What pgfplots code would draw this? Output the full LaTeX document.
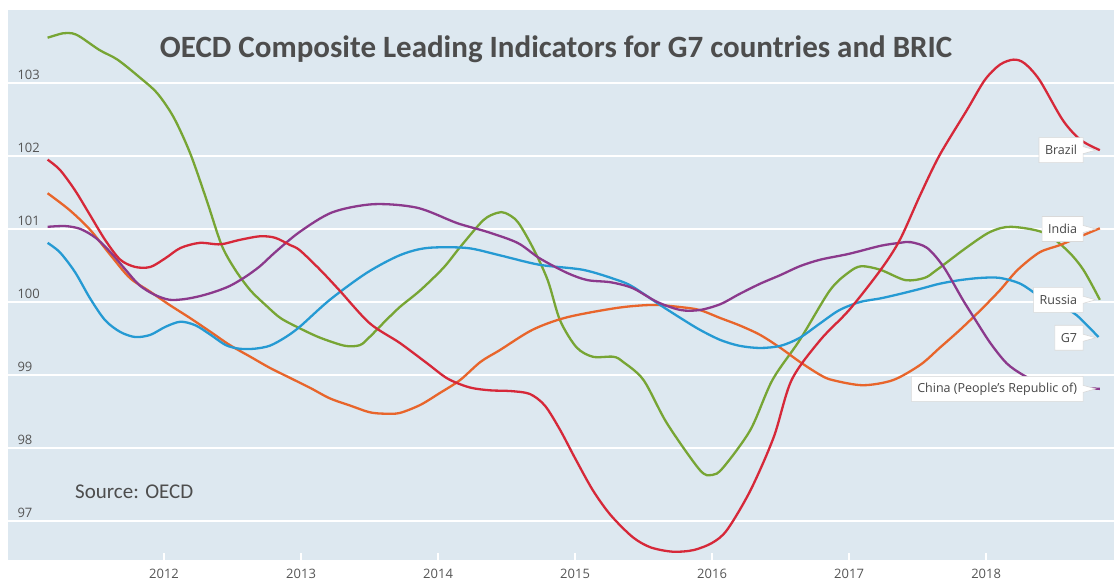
\documentclass[border=0pt]{standalone}
\usepackage{pgfplots}
\pgfplotsset{compat=1.18}
\usepackage{fontspec}
\setmainfont{Open Sans}
\newfontfamily\calib{Carlito}
\usetikzlibrary{shapes.callouts}
\definecolor{bg}{RGB}{221,232,240}
\definecolor{cgreen}{RGB}{119,165,52}
\definecolor{cred}{RGB}{214,40,57}
\definecolor{corange}{RGB}{232,101,43}
\definecolor{cblue}{RGB}{37,154,211}
\definecolor{cpurple}{RGB}{139,57,140}
\definecolor{tickgray}{RGB}{85,85,85}
\definecolor{titlegray}{RGB}{77,77,77}
\definecolor{labgray}{RGB}{70,70,70}
\begin{document}
\begin{tikzpicture}
\useasboundingbox (-8pt,-25pt) rectangle (1106pt,560pt);
\begin{axis}[
  at={(0pt,0pt)}, anchor=south west,
  scale only axis, width=1106pt, height=550pt,
  xmin=2010.861, xmax=2018.934, ymin=96.466, ymax=104.0,
  axis background/.style={fill=bg},
  axis line style={draw=none},
  xtick={2012,2013,2014,2015,2016,2017,2018},
  xticklabels={2012,2013,2014,2015,2016,2017,2018},
  ytick={97,98,99,100,101,102,103},
  yticklabels={97,98,99,100,101,102,103},
  ymajorgrids, grid style={white, line width=1.6pt},
  xtick pos=left, ytick pos=left,
  tick align=inside, major tick length=7pt,
  xtick style={white, line width=1.5pt},
  ytick style={draw=none},
  xticklabel style={font=\fontsize{13}{15}\selectfont, text=tickgray, yshift=-6pt},
  yticklabel style={font=\fontsize{13}{15}\selectfont, text=tickgray, anchor=south west, xshift=6pt, yshift=0pt},
  every axis plot/.append style={line width=2.3pt, no markers, smooth, line join=round},
  clip=true,
]
% Russia
\addplot[cgreen] coordinates {
(2011.15,103.62)(2011.26,103.68)(2011.33,103.68)(2011.39,103.63)(2011.53,103.45)(2011.66,103.32)
(2011.82,103.08)(2011.95,102.86)(2012.07,102.53)(2012.19,102.04)(2012.31,101.40)(2012.42,100.78)
(2012.52,100.44)(2012.63,100.16)(2012.74,99.96)(2012.85,99.78)(2012.99,99.64)(2013.14,99.51)
(2013.32,99.40)(2013.43,99.41)(2013.50,99.52)(2013.61,99.73)(2013.72,99.93)(2013.87,100.16)
(2014.04,100.47)(2014.16,100.75)(2014.33,101.12)(2014.43,101.22)(2014.49,101.22)(2014.58,101.10)
(2014.69,100.75)(2014.80,100.30)(2014.89,99.75)(2015.01,99.38)(2015.13,99.25)(2015.28,99.25)
(2015.35,99.18)(2015.50,98.93)(2015.67,98.34)(2015.91,97.70)(2016.00,97.63)(2016.08,97.73)
(2016.28,98.25)(2016.44,98.93)(2016.64,99.48)(2016.86,100.16)(2017.00,100.41)(2017.09,100.49)
(2017.23,100.44)(2017.41,100.30)(2017.55,100.33)(2017.64,100.44)(2017.86,100.75)(2018.03,100.96)
(2018.18,101.03)(2018.42,100.95)(2018.59,100.71)(2018.71,100.44)(2018.83,100.03)
};
% India
\addplot[corange] coordinates {
(2011.15,101.49)(2011.31,101.26)(2011.46,100.99)(2011.61,100.64)(2011.75,100.33)(2011.90,100.14)
(2012.04,99.96)(2012.19,99.78)(2012.34,99.59)(2012.48,99.41)(2012.63,99.25)(2012.77,99.10)
(2012.92,98.96)(2013.07,98.82)(2013.21,98.68)(2013.36,98.58)(2013.50,98.49)(2013.61,98.47)
(2013.72,98.48)(2013.87,98.59)(2014.01,98.75)(2014.16,98.93)(2014.31,99.18)(2014.45,99.34)
(2014.69,99.62)(2014.94,99.79)(2015.31,99.92)(2015.57,99.96)(2015.77,99.93)(2015.91,99.89)
(2016.06,99.78)(2016.20,99.68)(2016.35,99.55)(2016.50,99.37)(2016.64,99.18)(2016.79,99.00)
(2016.88,98.93)(2017.10,98.86)(2017.32,98.93)(2017.52,99.14)(2017.66,99.37)(2017.81,99.62)
(2017.96,99.89)(2018.10,100.16)(2018.23,100.44)(2018.39,100.68)(2018.54,100.78)(2018.69,100.90)
(2018.83,101.01)
};
% G7
\addplot[cblue] coordinates {
(2011.15,100.81)(2011.24,100.68)(2011.35,100.41)(2011.46,100.05)(2011.57,99.75)(2011.68,99.59)
(2011.79,99.52)(2011.90,99.55)(2012.01,99.66)(2012.12,99.73)(2012.23,99.68)(2012.34,99.55)
(2012.45,99.41)(2012.55,99.36)(2012.66,99.36)(2012.77,99.40)(2012.88,99.51)(2012.99,99.66)
(2013.21,100.03)(2013.48,100.40)(2013.72,100.64)(2013.92,100.74)(2014.21,100.74)(2014.45,100.64)
(2014.74,100.51)(2015.06,100.44)(2015.31,100.30)(2015.42,100.21)(2015.62,99.96)(2015.77,99.78)
(2015.91,99.62)(2016.06,99.48)(2016.20,99.40)(2016.35,99.37)(2016.50,99.40)(2016.64,99.51)
(2016.79,99.71)(2016.93,99.89)(2017.08,100.00)(2017.23,100.05)(2017.37,100.11)(2017.52,100.18)
(2017.66,100.25)(2017.81,100.30)(2017.96,100.33)(2018.10,100.33)(2018.25,100.25)(2018.39,100.08)
(2018.54,99.95)(2018.66,99.82)(2018.82,99.52)
};
% China
\addplot[cpurple] coordinates {
(2011.15,101.03)(2011.28,101.04)(2011.39,101.00)(2011.50,100.88)(2011.61,100.68)(2011.72,100.44)
(2011.82,100.23)(2011.93,100.10)(2012.04,100.03)(2012.15,100.04)(2012.26,100.08)(2012.37,100.14)
(2012.48,100.22)(2012.59,100.34)(2012.70,100.49)(2012.81,100.68)(2012.99,100.96)(2013.23,101.23)
(2013.53,101.34)(2013.85,101.29)(2014.14,101.08)(2014.36,100.96)(2014.58,100.81)(2014.74,100.60)
(2014.94,100.40)(2015.09,100.30)(2015.26,100.27)(2015.42,100.19)(2015.60,100.00)(2015.77,99.89)
(2015.91,99.89)(2016.06,99.97)(2016.20,100.11)(2016.35,100.25)(2016.50,100.37)(2016.64,100.49)
(2016.79,100.58)(2017.00,100.66)(2017.23,100.77)(2017.37,100.81)(2017.45,100.82)(2017.57,100.74)
(2017.69,100.48)(2017.83,100.03)(2017.91,99.79)(2018.03,99.44)(2018.15,99.16)(2018.27,99.00)
(2018.39,98.90)(2018.61,98.84)(2018.83,98.81)
};
% Brazil
\addplot[cred] coordinates {
(2011.15,101.95)(2011.24,101.81)(2011.35,101.53)(2011.46,101.19)(2011.57,100.85)(2011.68,100.58)
(2011.79,100.48)(2011.90,100.48)(2012.01,100.60)(2012.12,100.74)(2012.26,100.81)(2012.41,100.79)
(2012.55,100.85)(2012.70,100.90)(2012.81,100.88)(2012.92,100.78)(2012.99,100.71)(2013.14,100.44)
(2013.28,100.16)(2013.50,99.71)(2013.72,99.44)(2013.92,99.16)(2014.07,98.95)(2014.23,98.83)
(2014.38,98.79)(2014.53,98.78)(2014.67,98.74)(2014.78,98.58)(2014.89,98.25)(2015.00,97.86)
(2015.13,97.42)(2015.26,97.08)(2015.42,96.78)(2015.55,96.64)(2015.71,96.58)(2015.86,96.60)
(2016.00,96.70)(2016.11,96.88)(2016.28,97.42)(2016.45,98.15)(2016.58,98.93)(2016.79,99.48)
(2017.00,99.89)(2017.23,100.44)(2017.37,100.85)(2017.52,101.47)(2017.66,102.01)(2017.86,102.63)
(2017.99,103.04)(2018.10,103.25)(2018.20,103.32)(2018.28,103.27)(2018.39,103.04)(2018.56,102.49)
(2018.69,102.22)(2018.83,102.08)
};
\node[font=\calib\bfseries\fontsize{31}{36}\selectfont, text=titlegray] at (rel axis cs:0.4955,0.929) {OECD Composite Leading Indicators for G7 countries and BRIC};
\node[anchor=west, inner sep=0pt, font=\calib\fontsize{21}{24}\selectfont, text=titlegray] at (rel axis cs:0.0606,0.1236) {Source: OECD};
\tikzset{lab/.style={rectangle callout, fill=white, draw=gray!30, line width=0.6pt, font=\fontsize{12.5}{14}\selectfont, text=labgray, anchor=east, inner xsep=6pt, minimum height=25pt}}
\node[lab, callout absolute pointer={(axis cs:2018.80,102.08)}] at (axis cs:2018.71,102.08) {Brazil};
\node[lab, callout absolute pointer={(axis cs:2018.80,101.00)}] at (axis cs:2018.71,101.00) {India};
\node[lab, callout absolute pointer={(axis cs:2018.80,100.03)}] at (axis cs:2018.71,100.03) {Russia};
\node[lab, callout absolute pointer={(axis cs:2018.80,99.51)}] at (axis cs:2018.71,99.51) {G7};
\node[lab, callout absolute pointer={(axis cs:2018.80,98.81)}] at (axis cs:2018.71,98.81) {China (People's Republic of)};
\end{axis}
\end{tikzpicture}
\end{document}
